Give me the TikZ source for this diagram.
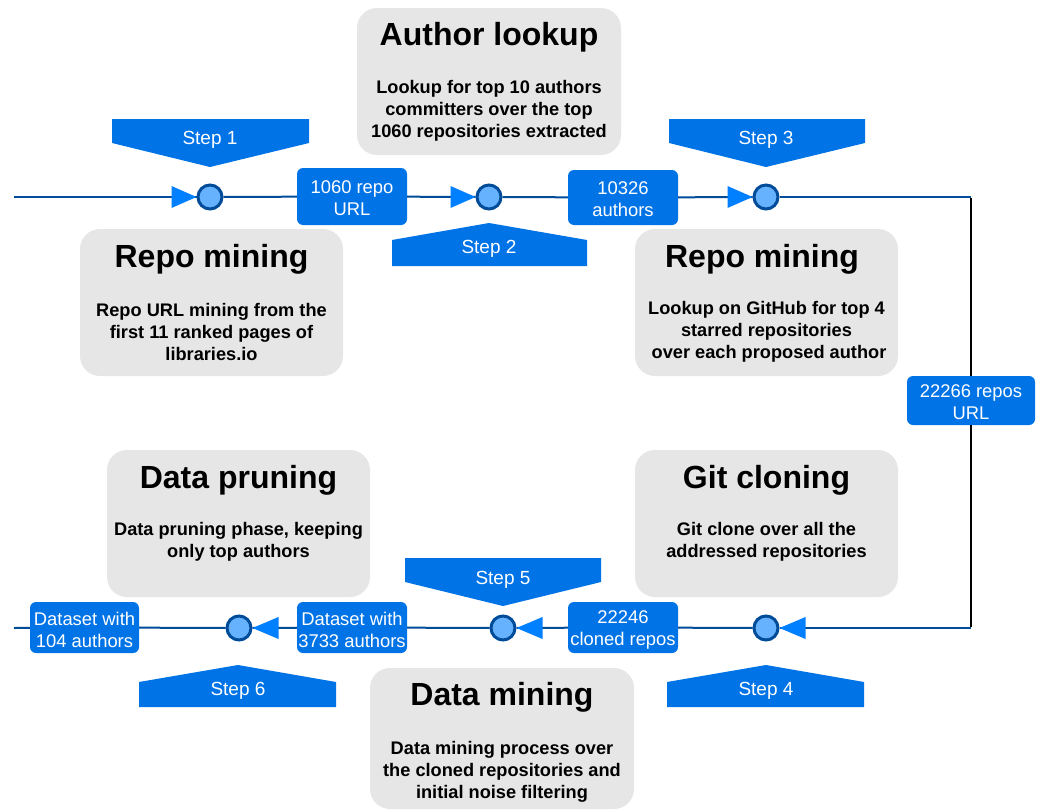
\documentclass[tikz,border=0pt]{standalone}
\usepackage{fontspec}
\setmainfont{Liberation Sans}
\usetikzlibrary{calc}
\definecolor{bluebox}{HTML}{0073E6}
\definecolor{circfill}{HTML}{66B2FF}
\definecolor{darkline}{HTML}{004C99}
\definecolor{trifill}{HTML}{007FFF}
\definecolor{graybox}{HTML}{E6E6E6}
\begin{document}
\begin{tikzpicture}[x=1pt,y=-1pt,
 panel/.style={fill=graybox, rounded corners=20pt, inner sep=0pt},
 ttl/.style={font=\fontsize{32}{36}\selectfont\bfseries, text=black, inner sep=0pt, yshift=-2pt},
 body/.style={font=\fontsize{18.2}{22}\selectfont\bfseries, align=center, inner sep=0pt, yshift=-1.5pt},
 lab/.style={fill=bluebox, rounded corners=6pt, text=white, align=center, font=\fontsize{18.4}{22}\selectfont, inner sep=0pt},
 labtxt/.style={text=white, align=center, font=\fontsize{18.4}{22}\selectfont, inner sep=0pt, yshift=-2pt},
 dot/.style={circle, fill=circfill, draw=darkline, line width=3pt, minimum size=24pt, inner sep=0pt},
 wire/.style={draw=darkline, line width=2pt},
 riser/.style={draw=black, line width=2pt},
 banner/.style={fill=bluebox},
 steptxt/.style={text=white, font=\fontsize{19}{22}\selectfont, inner sep=0pt, yshift=-2pt},
 tri/.style={fill=trifill}]
\useasboundingbox (0,0) rectangle (1042,811);

% panels
\node[panel, minimum width=264pt, minimum height=147pt] (p1) at (489,81.5) {};
\node[ttl] (t1) at (489,35) {Author lookup};
\node[body] (b1) at (489,109) {Lookup for top 10 authors\\committers over the top\\1060 repositories extracted};

\node[panel, minimum width=263pt, minimum height=147pt] (p2) at (211.5,302.5) {};
\node[ttl] (t2) at (211.5,257) {Repo mining};
\node[body] (b2) at (211.5,330) {Repo URL mining from the\\first 11 ranked pages of\\libraries.io};

\node[panel, minimum width=263pt, minimum height=147pt] (p3) at (766.5,302.5) {};
\node[ttl] (t3) at (762,257) {Repo mining};
\node[body] (b3) at (766.5,330) {Lookup on GitHub for top 4\\starred repositories\\\ over each proposed author};

\node[panel, minimum width=263pt, minimum height=147pt] (p4) at (238.5,523.5) {};
\node[ttl] (t4) at (238.5,478) {Data pruning};
\node[body] (b4) at (238.5,540) {Data pruning phase, keeping\\only top authors};

\node[panel, minimum width=263pt, minimum height=147pt] (p5) at (766.5,523.5) {};
\node[ttl] (t5) at (766.5,478) {Git cloning};
\node[body] (b5) at (766.5,540) {Git clone over all the\\addressed repositories};

\node[panel, minimum width=264pt, minimum height=141pt] (p6) at (502,738.5) {};
\node[ttl] (t6) at (502,695) {Data mining};
\node[body] (b6) at (502,770) {Data mining process over\\the cloned repositories and\\initial noise filtering};

% step banners
\fill[banner] (112,119) -- (309,119) -- (309,143) -- (210,167) -- (112,143) -- cycle;
\node[steptxt] (s1) at (210,138) {Step 1};
\fill[banner] (392,266) -- (587,266) -- (587,240) -- (489,223) -- (392,240) -- cycle;
\node[steptxt] (s2) at (489,247) {Step 2};
\fill[banner] (669,119) -- (865,119) -- (865,143) -- (766,167) -- (669,143) -- cycle;
\node[steptxt] (s3) at (766,138) {Step 3};
\fill[banner] (667,707) -- (864,707) -- (864,682) -- (766,665) -- (667,682) -- cycle;
\node[steptxt] (s4) at (766,689) {Step 4};
\fill[banner] (405,558) -- (601,558) -- (601,582) -- (503,606) -- (405,582) -- cycle;
\node[steptxt] (s5) at (503,578) {Step 5};
\fill[banner] (139,707) -- (336,707) -- (336,682) -- (238,665) -- (139,682) -- cycle;
\node[steptxt] (s6) at (238,689) {Step 6};

% flow nodes
\coordinate (start) at (14,197);
\coordinate (cTR) at (971,197);
\coordinate (cBR) at (971,628);
\coordinate (finish) at (14,628);
\node[dot] (c1) at (210,197) {};
\node[dot] (c2) at (489,197) {};
\node[dot] (c3) at (766,197) {};
\node[dot] (c4) at (766,628) {};
\node[dot] (c5) at (503,628) {};
\node[dot] (c6) at (239,628) {};
\node[lab, minimum width=110pt, minimum height=57pt] (l1) at (352,196.5) {};
\node[labtxt] (l1t) at (l1) {1060 repo\\URL};
\node[lab, minimum width=110pt, minimum height=55pt] (l2) at (623,197.5) {};
\node[labtxt] (l2t) at (l2) {10326\\authors};
\node[lab, minimum width=128pt, minimum height=49pt] (l3) at (971,400.5) {};
\node[labtxt] (l3t) at (l3) {22266 repos\\URL};
\node[lab, minimum width=110pt, minimum height=51pt] (l4) at (623,627.5) {};
\node[labtxt] (l4t) at (l4) {22246\\cloned repos};
\node[lab, minimum width=110pt, minimum height=51pt] (l5) at (352,627.5) {};
\node[labtxt] (l5t) at (l5) {Dataset with\\3733 authors};
\node[lab, minimum width=109pt, minimum height=51pt] (l6) at (84.5,627.5) {};
\node[labtxt] (l6t) at (l6) {Dataset with\\104 authors};

% connectors
\draw[wire] (start) -- (c1);
\draw[wire] (c1) -- (l1);
\draw[wire] (l1) -- (c2);
\draw[wire] (c2) -- (l2);
\draw[wire] (l2) -- (c3);
\draw[wire] (c3) -- (cTR);
\draw[riser] ([yshift=-1pt]cTR) -- (l3);
\draw[riser] (l3) -- ([yshift=1pt]cBR);
\draw[wire] (cBR) -- (c4);
\draw[wire] (c4) -- (l4);
\draw[wire] (l4) -- (c5);
\draw[wire] (c5) -- (l5);
\draw[wire] (l5) -- (c6);
\draw[wire] (c6) -- (l6);
\draw[wire] (l6) -- (finish);

% arrow triangles
\fill[tri] (c1.west) -- ++(-25,-11) -- ++(0,22) -- cycle;
\fill[tri] (c2.west) -- ++(-25,-11) -- ++(0,22) -- cycle;
\fill[tri] (c3.west) -- ++(-25,-11) -- ++(0,22) -- cycle;
\fill[tri] (c4.east) -- ++(26,-11) -- ++(0,22) -- cycle;
\fill[tri] (c5.east) -- ++(26,-11) -- ++(0,22) -- cycle;
\fill[tri] (c6.east) -- ++(26,-11) -- ++(0,22) -- cycle;
\end{tikzpicture}
\end{document}
